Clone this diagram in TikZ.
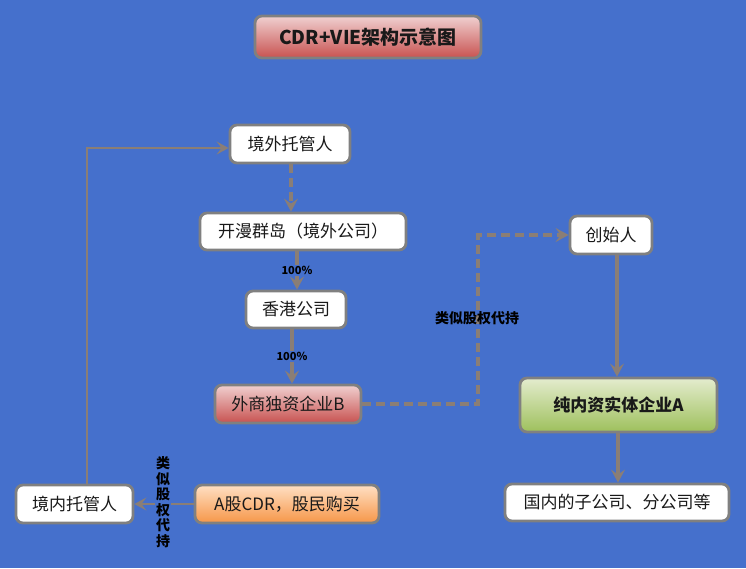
\documentclass[tikz,border=0pt]{standalone}
\usepackage{fontspec}
\setmainfont{Noto Sans CJK SC}
\usetikzlibrary{arrows.meta,positioning}
\definecolor{bgblue}{RGB}{69,112,204}
\definecolor{boxgray}{RGB}{128,128,128}
\definecolor{linegray}{RGB}{138,126,118}
\definecolor{redtop}{RGB}{240,208,208}
\definecolor{redbot}{RGB}{200,82,80}
\definecolor{greentop}{RGB}{228,236,206}
\definecolor{greenbot}{RGB}{158,192,92}
\definecolor{orangetop}{RGB}{255,224,196}
\definecolor{orangebot}{RGB}{246,150,72}
\definecolor{txt}{RGB}{25,25,25}
\begin{document}
\begin{tikzpicture}[x=1pt,y=-1pt,
  box/.style={draw=boxgray, line width=2.8pt, rounded corners=7pt, fill=white,
    inner sep=0pt, font=\fontsize{17}{19}\selectfont, text=txt},
  redbox/.style={box, top color=redtop, bottom color=redbot},
  greenbox/.style={box, top color=greentop, bottom color=greenbot},
  orangebox/.style={box, top color=orangetop, bottom color=orangebot},
  conn/.style={draw=linegray, line width=3.4pt, -{Stealth[length=13pt,width=14pt,inset=5pt]}},
  thinconn/.style={draw=linegray, line width=2.6pt, -{Stealth[length=12pt,width=13pt,inset=5pt]}},
  dconn/.style={conn, dash pattern=on 9pt off 5pt},
  pct/.style={font=\bfseries\fontsize{11}{12}\selectfont, text=black, inner sep=1pt},
  lbl/.style={font=\bfseries\fontsize{14}{16}\selectfont, text=black, inner sep=1pt}
]
\fill[bgblue] (0,0) rectangle (746,568);
\useasboundingbox (0,0) rectangle (746,568);

% nodes
\node[redbox, minimum width=226pt, minimum height=42pt, font=\bfseries\fontsize{19}{21}\selectfont] (title) at (368,37) {CDR+VIE架构示意图};
\node[box, minimum width=120pt, minimum height=38pt] (jwtg) at (290,144) {境外托管人};
\node[box, minimum width=206pt, minimum height=37pt] (kmqd) at (303,231.5) {开漫群岛（境外公司）};
\node[box, minimum width=100pt, minimum height=37pt] (hk) at (296,309.5) {香港公司};
\node[redbox, minimum width=146pt, minimum height=38pt] (wfoe) at (288,404) {外商独资企业B};
\node[box, minimum width=82pt, minimum height=38pt] (csr) at (611,235) {创始人};
\node[greenbox, minimum width=197pt, minimum height=54pt, font=\bfseries\fontsize{17}{19}\selectfont] (nzA) at (618.5,405) {纯内资实体企业A};
\node[box, minimum width=224pt, minimum height=37pt] (gn) at (617,502.5) {国内的子公司、分公司等};
\node[box, minimum width=117pt, minimum height=38pt] (jntg) at (74.5,504) {境内托管人};
\node[orangebox, minimum width=184pt, minimum height=38pt] (cdr) at (287,504) {A股CDR，股民购买};

% coordinates
\coordinate (c1) at (478,404);
\coordinate (c2) at (478,235);
\coordinate (c3) at (87,148);

% connectors
\draw[dconn] (jwtg.south -| 291,0) -- (kmqd.north -| 291,0);
\draw[conn] (kmqd.south -| 297,0) -- node[pct, fill=bgblue] {100\%} (hk.north -| 297,0);
\draw[conn] (hk.south -| 292,0) -- node[pct, fill=bgblue] {100\%} (wfoe.north -| 292,0);
\draw[dconn] (wfoe.east) -- (c1) -- (c2) -- (csr.west);
\node[lbl] (lbl1) at (477,318) {类似股权代持};
\draw[conn] (csr.south -| 617,0) -- (nzA.north -| 617,0);
\draw[conn] (nzA.south -| 618,0) -- (gn.north -| 618,0);
\draw[thinconn] (cdr.west) -- (jntg.east);
\node[lbl, fill=bgblue, align=center, font=\bfseries\fontsize{14}{15.5}\selectfont] (lbl2) at (163,502) {类\\似\\股\\权\\代\\持};
\draw[thinconn] (jntg.north -| c3) -- (c3) -- (jwtg.west |- c3);
\end{tikzpicture}
\end{document}
